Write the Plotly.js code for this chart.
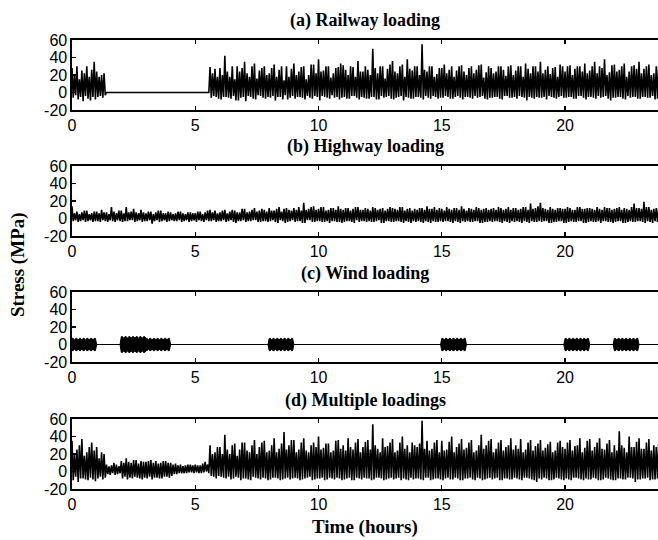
<!DOCTYPE html>
<html>
<head>
<meta charset="utf-8">
<script src="https://cdn.plot.ly/plotly-3.0.1.min.js"></script>
<style>html,body{margin:0;padding:0;background:#fff;}#chart{width:658px;height:540px;}</style>
</head>
<body>
<div id="chart"></div>
<script>
// sampling step: 0.05 hour (3 minutes), 480 samples over 24 hours
const stepHours = 0.05;
const nSamples = 480;
const time = Array.from({length: nSamples}, (_, i) => +(i * stepHours).toFixed(2));

const panelTitles = ['(a) Railway loading', '(b) Highway loading', '(c) Wind loading', '(d) Multiple loadings'];
const xTicks = [0, 5, 10, 15, 20];
const yTicks = [-20, 0, 20, 40, 60];

// (a) Railway loading stress (MPa), one row = one hour
const railway = [
  28,-6,20,-3,30,-8,15,-5,25,-10,22,-4,30,-7,18,-9,26,-5,35,-8,
  24,-5,18,-4,20,-6,22,-3,0,0,0,0,0,0,0,0,0,0,0,0,
  0,0,0,0,0,0,0,0,0,0,0,0,0,0,0,0,0,0,0,0,
  0,0,0,0,0,0,0,0,0,0,0,0,0,0,0,0,0,0,0,0,
  0,0,0,0,0,0,0,0,0,0,0,0,0,0,0,0,0,0,0,0,
  0,0,0,0,0,0,0,0,0,0,0,0,29,-6,22,-4,27,-5,18,-7,
  28,-8,20,-5,42,-5,24,-6,18,-7,30,-4,15,-9,30,-9,24,-6,28,-5,
  35,-10,22,-4,18,-5,30,-7,33,-8,16,-3,25,-4,28,-6,30,-7,20,-5,
  22,-6,28,-4,32,-9,18,-5,26,-5,30,-8,14,-3,30,-8,18,-6,27,-4,
  33,-7,20,-5,24,-5,29,-6,30,-8,15,-4,20,-6,32,-7,32,-4,22,-5,
  38,-9,24,-4,25,-5,30,-6,30,-7,17,-3,22,-6,28,-5,29,-8,33,-6,
  31,-5,26,-7,20,-7,30,-4,29,-4,18,-6,36,-8,24,-5,24,-6,30,-7,
  26,-7,20,-5,50,-5,28,-8,22,-8,30,-4,30,-6,16,-5,27,-4,32,-7,
  36,-8,24,-6,22,-5,30,-4,32,-9,18,-5,38,-6,27,-7,25,-7,30,-5,
  30,-5,20,-6,55,-8,26,-4,24,-6,30,-7,30,-4,18,-5,21,-7,28,-6,
  28,-6,32,-4,22,-5,26,-7,30,-7,18,-5,25,-4,30,-6,31,-8,24,-5,
  20,-5,28,-6,30,-7,22,-4,26,-6,31,-5,32,-4,17,-7,23,-8,30,-6,
  28,-6,22,-5,24,-5,30,-7,30,-8,26,-4,19,-4,30,-6,31,-6,20,-5,
  25,-7,30,-4,30,-5,18,-6,33,-9,27,-5,22,-6,30,-7,30,-5,24,-6,
  35,-6,22,-5,26,-8,30,-4,21,-5,28,-6,29,-7,18,-5,32,-4,30,-6,
  24,-6,30,-5,31,-5,20,-7,27,-7,30,-4,30,-4,24,-6,33,-8,22,-5,
  25,-5,30,-6,35,-7,22,-4,30,-6,28,-5,38,-4,20,-7,23,-9,31,-6,
  32,-6,24,-5,26,-5,30,-7,33,-8,18,-4,24,-6,30,-5,31,-5,27,-7,
  35,-7,22,-5,27,-5,30,-6,32,-6,20,-4,22,-8,30,-7,31,-5,26,-6
];

// (b) Highway loading stress (MPa)
const highway = [
  14,-3,6,-2,8,-4,5,-3,7,-2,9,-4,9,-3,5,-2,6,-4,8,-3,
  8,-3,6,-4,10,-2,7,-3,7,-4,5,-2,13,-3,8,-4,6,-2,9,-3,
  9,-4,6,-3,13,-3,7,-2,8,-2,11,-4,7,-3,6,-2,10,-4,7,-3,
  6,-3,8,-2,8,-6,5,-3,7,-2,9,-4,9,-3,6,-2,6,-4,8,-3,
  7,-2,5,-3,6,-3,8,-2,8,-4,6,-3,5,-2,7,-4,7,-3,6,-2,
  6,-4,8,-2,8,-3,5,-4,7,-2,9,-3,10,-3,7,-2,9,-4,6,-3,
  7,-3,9,-2,10,-4,6,-3,8,-2,10,-4,9,-5,7,-3,7,-3,11,-2,
  11,-4,7,-3,8,-3,10,-2,12,-2,8,-4,9,-4,11,-3,10,-3,8,-4,
  12,-3,9,-2,9,-4,11,-5,13,-2,8,-3,11,-5,12,-4,10,-3,9,-2,
  12,-4,10,-3,13,-3,9,-5,18,-5,10,-2,11,-2,13,-4,14,-4,10,-3,
  11,-3,13,-4,13,-4,9,-3,10,-5,12,-3,12,-3,10,-4,14,-4,11,-5,
  10,-4,12,-3,12,-3,9,-4,11,-5,13,-2,13,-4,10,-3,10,-3,12,-4,
  11,-3,9,-4,13,-4,12,-3,10,-2,11,-5,12,-5,9,-3,11,-3,13,-4,
  12,-4,11,-3,10,-3,13,-4,13,-5,9,-3,11,-4,12,-5,9,-3,11,-4,
  10,-3,12,-4,12,-5,10,-3,14,-4,11,-5,11,-3,13,-4,10,-4,12,-3,
  11,-4,9,-3,13,-3,11,-4,10,-5,12,-3,12,-4,10,-5,14,-3,11,-4,
  9,-3,12,-4,11,-4,10,-3,13,-3,12,-5,10,-5,11,-4,12,-4,10,-3,
  11,-4,12,-3,10,-3,13,-4,12,-5,10,-3,11,-4,13,-5,10,-3,12,-4,
  12,-3,10,-4,11,-5,13,-3,13,-4,10,-5,17,-3,11,-4,12,-4,14,-3,
  18,-4,12,-3,11,-3,10,-5,13,-5,11,-4,10,-4,12,-3,12,-3,11,-5,
  11,-5,13,-4,12,-3,10,-4,10,-4,13,-3,13,-3,11,-5,11,-5,12,-4,
  12,-3,11,-4,10,-4,13,-3,11,-5,10,-3,13,-3,12,-4,12,-4,10,-5,
  11,-4,12,-3,13,-3,10,-5,12,-5,11,-4,10,-3,13,-4,17,-4,12,-3,
  12,-3,11,-4,19,-5,13,-3,13,-4,10,-5,11,-3,12,-4,12,-4,11,-3
];

// (c) Wind loading: upper and lower envelope of the oscillation (MPa)
const windUpper = [
  7,7,5,7,7,5,7,7,5,7,7,5,7,7,5,7,7,5,7,7,
  0,0,0,0,0,0,0,0,0,0,0,0,0,0,0,0,0,0,0,0,
  9,9,7,9,9,7,9,9,7,9,9,7,9,9,7,9,9,7,9,9,
  7,7,5,7,7,5,7,7,5,7,7,5,7,7,5,7,7,5,7,7,
  0,0,0,0,0,0,0,0,0,0,0,0,0,0,0,0,0,0,0,0,
  0,0,0,0,0,0,0,0,0,0,0,0,0,0,0,0,0,0,0,0,
  0,0,0,0,0,0,0,0,0,0,0,0,0,0,0,0,0,0,0,0,
  0,0,0,0,0,0,0,0,0,0,0,0,0,0,0,0,0,0,0,0,
  7,7,5,7,7,5,7,7,5,7,7,5,7,7,5,7,7,5,7,7,
  0,0,0,0,0,0,0,0,0,0,0,0,0,0,0,0,0,0,0,0,
  0,0,0,0,0,0,0,0,0,0,0,0,0,0,0,0,0,0,0,0,
  0,0,0,0,0,0,0,0,0,0,0,0,0,0,0,0,0,0,0,0,
  0,0,0,0,0,0,0,0,0,0,0,0,0,0,0,0,0,0,0,0,
  0,0,0,0,0,0,0,0,0,0,0,0,0,0,0,0,0,0,0,0,
  0,0,0,0,0,0,0,0,0,0,0,0,0,0,0,0,0,0,0,0,
  7,7,5,7,7,5,7,7,5,7,7,5,7,7,5,7,7,5,7,7,
  0,0,0,0,0,0,0,0,0,0,0,0,0,0,0,0,0,0,0,0,
  0,0,0,0,0,0,0,0,0,0,0,0,0,0,0,0,0,0,0,0,
  0,0,0,0,0,0,0,0,0,0,0,0,0,0,0,0,0,0,0,0,
  0,0,0,0,0,0,0,0,0,0,0,0,0,0,0,0,0,0,0,0,
  7,7,5,7,7,5,7,7,5,7,7,5,7,7,5,7,7,5,7,7,
  0,0,0,0,0,0,0,0,0,0,0,0,0,0,0,0,0,0,0,0,
  7,7,5,7,7,5,7,7,5,7,7,5,7,7,5,7,7,5,7,7,
  0,0,0,0,0,0,0,0,0,0,0,0,0,0,0,0,0,0,0,0
];
const windLower = [
  -7,-7,-5,-7,-7,-5,-7,-7,-5,-7,-7,-5,-7,-7,-5,-7,-7,-5,-7,-7,
  0,0,0,0,0,0,0,0,0,0,0,0,0,0,0,0,0,0,0,0,
  -9,-9,-7,-9,-9,-7,-9,-9,-7,-9,-9,-7,-9,-9,-7,-9,-9,-7,-9,-9,
  -7,-7,-5,-7,-7,-5,-7,-7,-5,-7,-7,-5,-7,-7,-5,-7,-7,-5,-7,-7,
  0,0,0,0,0,0,0,0,0,0,0,0,0,0,0,0,0,0,0,0,
  0,0,0,0,0,0,0,0,0,0,0,0,0,0,0,0,0,0,0,0,
  0,0,0,0,0,0,0,0,0,0,0,0,0,0,0,0,0,0,0,0,
  0,0,0,0,0,0,0,0,0,0,0,0,0,0,0,0,0,0,0,0,
  -7,-7,-5,-7,-7,-5,-7,-7,-5,-7,-7,-5,-7,-7,-5,-7,-7,-5,-7,-7,
  0,0,0,0,0,0,0,0,0,0,0,0,0,0,0,0,0,0,0,0,
  0,0,0,0,0,0,0,0,0,0,0,0,0,0,0,0,0,0,0,0,
  0,0,0,0,0,0,0,0,0,0,0,0,0,0,0,0,0,0,0,0,
  0,0,0,0,0,0,0,0,0,0,0,0,0,0,0,0,0,0,0,0,
  0,0,0,0,0,0,0,0,0,0,0,0,0,0,0,0,0,0,0,0,
  0,0,0,0,0,0,0,0,0,0,0,0,0,0,0,0,0,0,0,0,
  -7,-7,-5,-7,-7,-5,-7,-7,-5,-7,-7,-5,-7,-7,-5,-7,-7,-5,-7,-7,
  0,0,0,0,0,0,0,0,0,0,0,0,0,0,0,0,0,0,0,0,
  0,0,0,0,0,0,0,0,0,0,0,0,0,0,0,0,0,0,0,0,
  0,0,0,0,0,0,0,0,0,0,0,0,0,0,0,0,0,0,0,0,
  0,0,0,0,0,0,0,0,0,0,0,0,0,0,0,0,0,0,0,0,
  -7,-7,-5,-7,-7,-5,-7,-7,-5,-7,-7,-5,-7,-7,-5,-7,-7,-5,-7,-7,
  0,0,0,0,0,0,0,0,0,0,0,0,0,0,0,0,0,0,0,0,
  -7,-7,-5,-7,-7,-5,-7,-7,-5,-7,-7,-5,-7,-7,-5,-7,-7,-5,-7,-7,
  0,0,0,0,0,0,0,0,0,0,0,0,0,0,0,0,0,0,0,0
];

// (d) Multiple loadings stress (MPa)
const multiple = [
  35,-10,20,-6,25,-12,30,-8,37,-8,18,-9,22,-10,28,-7,33,-9,24,-11,
  28,-8,15,-6,22,-9,20,-7,8,-3,6,-4,7,-2,10,-4,8,-3,6,-2,
  12,-8,10,-6,15,-9,11,-7,10,-8,13,-6,13,-7,9,-8,12,-9,11,-7,
  11,-8,12,-6,13,-9,10,-7,12,-7,9,-8,10,-8,12,-6,12,-6,10,-7,
  10,-5,8,-3,9,-3,7,-2,8,-2,6,-2,7,-2,8,-1,8,-1,7,-2,
  8,-1,7,-2,7,-2,9,-1,11,0,8,-2,30,-5,20,-6,22,-8,28,-5,
  28,-6,20,-7,42,-8,25,-6,20,-9,30,-8,32,-6,18,-7,25,-10,33,-8,
  33,-8,24,-9,22,-10,30,-6,36,-7,20,-8,28,-9,33,-7,35,-8,22,-10,
  24,-9,30,-7,38,-7,22,-8,26,-10,32,-9,45,-8,25,-7,30,-9,36,-8,
  36,-7,22,-8,25,-10,33,-9,38,-8,24,-7,22,-6,30,-10,33,-9,28,-8,
  40,-8,25,-7,27,-10,32,-9,32,-7,22,-8,24,-9,35,-7,36,-8,26,-10,
  30,-9,24,-8,38,-7,28,-10,25,-10,33,-7,37,-8,22,-9,28,-7,34,-8,
  36,-8,25,-10,54,-9,30,-7,26,-7,22,-8,38,-10,28,-9,29,-8,33,-7,
  37,-9,22,-8,24,-7,33,-10,40,-8,26,-9,30,-10,22,-7,33,-9,30,-8,
  28,-8,32,-9,58,-10,26,-7,35,-7,24,-10,26,-9,33,-8,36,-8,22,-9,
  35,-10,24,-8,25,-7,34,-9,40,-9,22,-7,28,-8,32,-10,37,-10,25,-8,
  27,-8,33,-7,36,-9,22,-10,24,-7,30,-8,42,-10,26,-9,30,-8,35,-7,
  37,-9,22,-8,26,-7,33,-10,36,-10,24,-8,28,-8,30,-9,38,-9,25,-7,
  30,-8,26,-9,37,-10,22,-7,25,-7,33,-8,36,-9,24,-10,29,-12,32,-8,
  36,-9,24,-7,27,-8,31,-10,34,-10,22,-9,24,-7,33,-8,35,-9,28,-10,
  26,-8,33,-9,36,-10,24,-7,29,-7,30,-8,38,-9,22,-10,27,-8,35,-9,
  37,-9,24,-7,28,-8,33,-10,38,-10,26,-9,25,-7,32,-8,36,-9,22,-10,
  30,-10,24,-8,46,-8,30,-9,27,-9,22,-7,40,-7,28,-8,28,-12,34,-9,
  38,-9,26,-8,26,-8,33,-7,37,-10,24,-9,30,-9,28,-8,34,-8,25,-10
];

const lineStyle = {color: '#000', width: 1.6};
const thinLine = {color: '#000', width: 1};
const traces = [
  {x: time, y: railway, xaxis: 'x', yaxis: 'y', mode: 'lines', line: lineStyle, hoverinfo: 'skip'},
  {x: time, y: highway, xaxis: 'x2', yaxis: 'y2', mode: 'lines', line: lineStyle, hoverinfo: 'skip'},
  {x: time, y: windLower, xaxis: 'x3', yaxis: 'y3', mode: 'lines', line: thinLine, hoverinfo: 'skip'},
  {x: time, y: windUpper, xaxis: 'x3', yaxis: 'y3', mode: 'lines', line: thinLine, fill: 'tonexty', fillcolor: '#000', hoverinfo: 'skip'},
  {x: time, y: multiple, xaxis: 'x4', yaxis: 'y4', mode: 'lines', line: lineStyle, hoverinfo: 'skip'}
];

const H = 540;
const panelTops = [40, 166, 292, 419];
const panelHeight = 70;
const tickFont = {family: 'Liberation Sans, Arial, sans-serif', size: 16, color: '#000'};
const serifBold = 'Liberation Serif, Times New Roman, serif';

function xAxis(anchor) {
  return {
    anchor: anchor, domain: [0, 1], range: [0, 23.77],
    tickvals: xTicks, ticktext: xTicks.map(String),
    ticks: 'inside', ticklen: 4, tickwidth: 1.2, tickcolor: '#000',
    showline: true, linecolor: '#000', linewidth: 1.6, mirror: 'ticks',
    showgrid: false, zeroline: false, tickfont: tickFont, automargin: false
  };
}
function yAxis(anchor, top) {
  return {
    anchor: anchor,
    domain: [1 - (top + panelHeight) / H, 1 - top / H],
    range: [-20, 60], tickvals: yTicks, ticktext: yTicks.map(String),
    ticks: 'inside', ticklen: 4, tickwidth: 1.2, tickcolor: '#000',
    showline: true, linecolor: '#000', linewidth: 1.6, mirror: true,
    showgrid: false, zeroline: false, tickfont: tickFont, automargin: false
  };
}

const annotations = panelTitles.map((t, i) => ({
  text: '<b>' + t + '</b>', xref: 'paper', yref: 'paper', x: 0.5,
  y: 1 - (panelTops[i] - 19) / H, xanchor: 'center', yanchor: 'middle',
  showarrow: false, font: {family: serifBold, size: 18, color: '#000'}
}));
annotations.push({
  text: '<b>Stress (MPa)</b>', xref: 'paper', yref: 'paper',
  x: -0.092, y: 1 - 265 / H, xanchor: 'center', yanchor: 'middle', textangle: -90,
  showarrow: false, font: {family: serifBold, size: 19, color: '#000'}
});
annotations.push({
  text: '<b>Time (hours)</b>', xref: 'paper', yref: 'paper',
  x: 0.5, y: 1 - 527 / H, xanchor: 'center', yanchor: 'middle',
  showarrow: false, font: {family: serifBold, size: 19, color: '#000'}
});

const layout = {
  width: 658, height: 540,
  margin: {l: 72, r: 0, t: 0, b: 0},
  paper_bgcolor: '#fff', plot_bgcolor: '#fff',
  showlegend: false,
  xaxis: xAxis('y'), yaxis: yAxis('x', panelTops[0]),
  xaxis2: xAxis('y2'), yaxis2: yAxis('x2', panelTops[1]),
  xaxis3: xAxis('y3'), yaxis3: yAxis('x3', panelTops[2]),
  xaxis4: xAxis('y4'), yaxis4: yAxis('x4', panelTops[3]),
  annotations: annotations
};

Plotly.newPlot('chart', traces, layout, {staticPlot: true, displayModeBar: false});
</script>
</body>
</html>
